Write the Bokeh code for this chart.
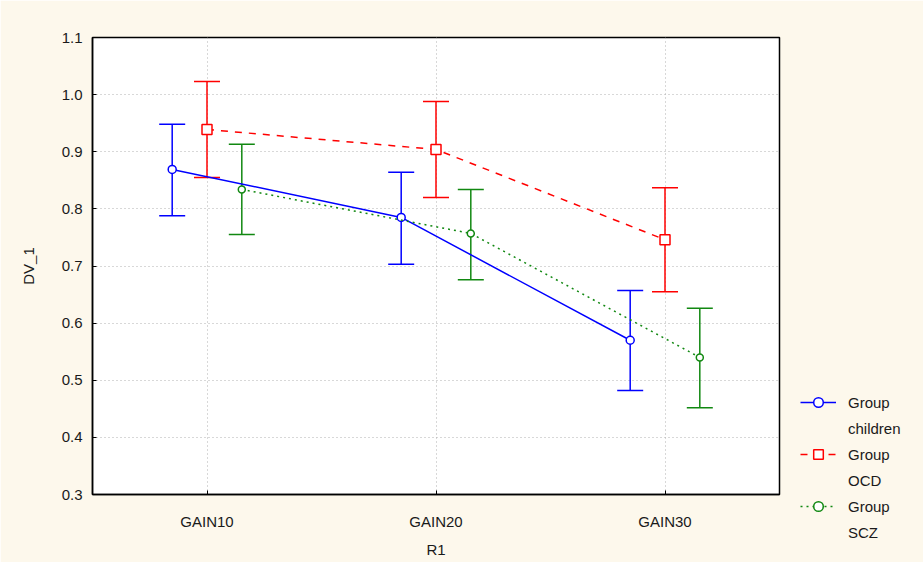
from bokeh.plotting import figure
from bokeh.models import (ColumnDataSource, Whisker, TeeHead, Legend, LegendItem,
                          FixedTicker)
from bokeh.embed import file_html
from bokeh.resources import INLINE

categories = ["GAIN10", "GAIN20", "GAIN30"]
group_names = ["children", "OCD", "SCZ"]

children_mean = [0.869, 0.785, 0.570]
children_upper = [0.948, 0.864, 0.657]
children_lower = [0.788, 0.703, 0.482]

ocd_mean = [0.939, 0.904, 0.746]
ocd_upper = [1.023, 0.988, 0.837]
ocd_lower = [0.855, 0.820, 0.655]

scz_mean = [0.834, 0.757, 0.540]
scz_upper = [0.913, 0.834, 0.626]
scz_lower = [0.755, 0.676, 0.452]

y_ticks = [0.3, 0.4, 0.5, 0.6, 0.7, 0.8, 0.9, 1.0, 1.1]

BG = "#fdf8ec"
FONT = "Liberation Sans"
TXT = "#1a1a1a"

p = figure(frame_width=687, frame_height=457, output_backend="svg", toolbar_location=None,
           x_range=(-0.5, 2.5), y_range=(0.3, 1.1),
           min_border_left=92, min_border_top=37, min_border_right=141,
           min_border_bottom=68)
p.border_fill_color = BG
p.background_fill_color = "white"
p.outline_line_color = "black"
p.outline_line_width = 1.5

p.xaxis.ticker = FixedTicker(ticks=list(range(len(categories))))
p.xaxis.major_label_overrides = {i: c for i, c in enumerate(categories)}
p.yaxis.ticker = FixedTicker(ticks=y_ticks)
p.yaxis.major_label_overrides = {t: f"{t:.1f}" for t in y_ticks}

for ax in (p.xaxis[0], p.yaxis[0]):
    ax.axis_line_color = "black"
    ax.axis_line_width = 1.5
    ax.major_tick_in = 4
    ax.major_tick_out = 0
    ax.minor_tick_line_color = None
    ax.major_tick_line_color = "black"
    ax.major_label_text_font = FONT
    ax.major_label_text_font_size = "15px"
    ax.major_label_text_color = TXT
    ax.axis_label_text_font = FONT
    ax.axis_label_text_font_size = "15px"
    ax.axis_label_text_font_style = "normal"
    ax.axis_label_text_color = TXT

p.xaxis.axis_label = "R1"
p.yaxis.axis_label = "DV_1"
p.xaxis.major_label_standoff = 18
p.xaxis.axis_label_standoff = 8
p.yaxis.major_label_standoff = 10
p.yaxis.axis_label_standoff = 22

p.grid.grid_line_color = "#b0b0b0"
p.grid.grid_line_dash = "1 3"
p.grid.grid_line_width = 1

series = [
    (children_mean, children_upper, children_lower, -0.152, "#0000ff", "solid", "circle", 8),
    (ocd_mean, ocd_upper, ocd_lower, 0.0, "#ff0000", "7 7", "square", 10),
    (scz_mean, scz_upper, scz_lower, 0.152, "#118811", "2 4", "circle", 7),
]

items = []
for (mean, up, lo, off, color, dash, marker, size), name in zip(series, group_names):
    xs = [i + off for i in range(len(categories))]
    src = ColumnDataSource(dict(x=xs, y=mean, upper=up, lower=lo))
    ln = p.line("x", "y", source=src, line_color=color, line_width=1.5, line_dash=dash)
    w = Whisker(source=src, base="x", upper="upper", lower="lower", dimension="height",
                line_color=color, line_width=1.5,
                upper_head=TeeHead(size=26, line_color=color, line_width=1.5),
                lower_head=TeeHead(size=26, line_color=color, line_width=1.5))
    p.add_layout(w)
    mk = p.scatter("x", "y", source=src, marker=marker, size=size, fill_color="white",
                   line_color=color, line_width=1.5)
    items.append(LegendItem(label="Group", renderers=[ln, mk]))
    items.append(LegendItem(label=name, renderers=[]))

legend = Legend(items=items, location=(21, -51), background_fill_color=BG,
                border_line_color=None, label_text_font=FONT, label_text_font_size="15px",
                label_text_color=TXT,
                glyph_width=36, glyph_height=24, spacing=0,
                padding=2, margin=0, label_standoff=12, label_height=26)
p.add_layout(legend, "right")

open("out.html", "w").write(file_html(p, INLINE))
